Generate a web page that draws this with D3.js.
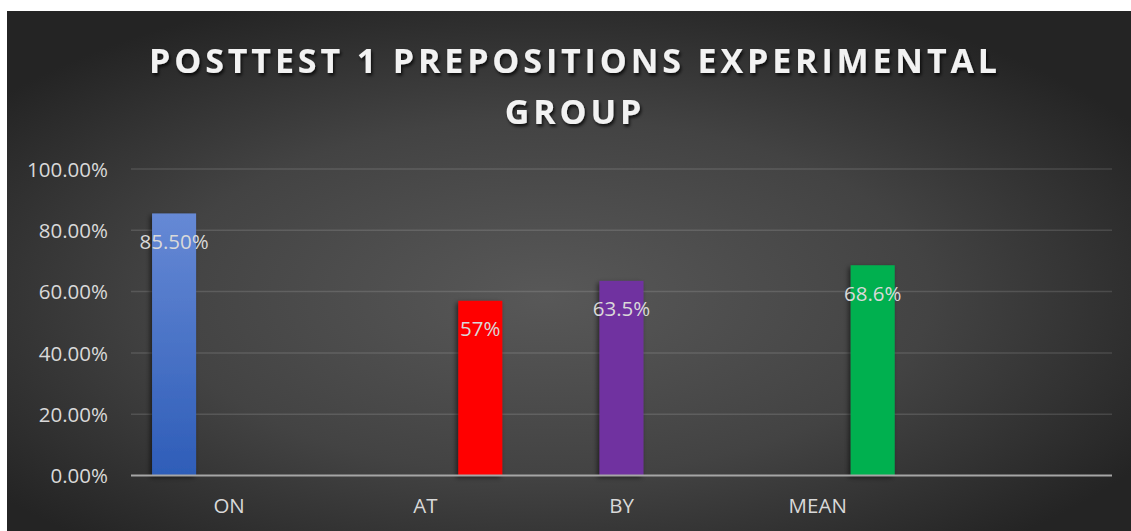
<!DOCTYPE html>
<html>
<head>
<meta charset="utf-8">
<script src="https://cdn.jsdelivr.net/npm/d3@7/dist/d3.min.js"></script>
<style>
  html, body { margin: 0; padding: 0; background: #ffffff; }
  svg { display: block; }
  text { font-family: "Open Sans", "Liberation Sans", sans-serif; }
</style>
</head>
<body>
<svg id="chart" width="1131" height="531"></svg>
<script>
// Categories along the x axis (the last slot is left empty)
const categories = ["ON", "AT", "BY", "MEAN", ""];
// Series slots inside each category group
const seriesNames = ["S1", "S2", "S3"];
// Values per series, one entry per category (null = no bar)
const series1 = [0.855, null, null, null, null];
const series2 = [null, null, 0.635, null, null];
const series3 = [null, 0.57, null, 0.686, null];
// Data labels as printed on the bars
const pointLabels = { ON: "85.50%", AT: "57%", BY: "63.5%", MEAN: "68.6%" };
// Bar fill per category
const pointColors = { ON: "url(#blueFill)", AT: "#ff0000", BY: "#7030a0", MEAN: "#00b050" };
// Y axis ticks
const yTicks = [0, 0.2, 0.4, 0.6, 0.8, 1.0];
const titleLines = ["POSTTEST 1 PREPOSITIONS EXPERIMENTAL", "GROUP"];

const svg = d3.select("#chart");
const W = 1131, H = 531;
const frame = { x: 7, y: 11 };
const plot = { left: 131, right: 1112, top: 169, bottom: 475.5 };

const defs = svg.append("defs");
const bg = defs.append("radialGradient").attr("id", "bgGrad")
  .attr("cx", "48%").attr("cy", "55%").attr("r", "62%")
  .attr("gradientUnits", "objectBoundingBox");
bg.append("stop").attr("offset", "0%").attr("stop-color", "#585858");
bg.append("stop").attr("offset", "55%").attr("stop-color", "#434343");
bg.append("stop").attr("offset", "100%").attr("stop-color", "#242424");

const blue = defs.append("linearGradient").attr("id", "blueFill")
  .attr("x1", 0).attr("y1", 0).attr("x2", 0).attr("y2", 1);
blue.append("stop").attr("offset", "0%").attr("stop-color", "#6689d5");
blue.append("stop").attr("offset", "100%").attr("stop-color", "#2e5db8");

const barShadow = defs.append("filter").attr("id", "barShadow")
  .attr("x", "-30%").attr("y", "-10%").attr("width", "160%").attr("height", "120%");
barShadow.append("feDropShadow").attr("dx", -2).attr("dy", 2)
  .attr("stdDeviation", 2.5).attr("flood-color", "#000").attr("flood-opacity", 0.55);

const titleShadow = defs.append("filter").attr("id", "titleShadow")
  .attr("x", "-5%").attr("y", "-30%").attr("width", "110%").attr("height", "160%");
titleShadow.append("feDropShadow").attr("dx", 1.5).attr("dy", 2.5)
  .attr("stdDeviation", 1.6).attr("flood-color", "#000").attr("flood-opacity", 0.75);

// Background panel
svg.append("rect").attr("x", frame.x).attr("y", frame.y)
  .attr("width", W - frame.x).attr("height", H - frame.y)
  .attr("fill", "url(#bgGrad)");

// Scales
const y = d3.scaleLinear().domain([0, 1]).range([plot.bottom, plot.top]);
const x0 = d3.scaleBand().domain(categories).range([plot.left, plot.right]).padding(0);
const x1 = d3.scaleBand().domain(seriesNames).range([0, x0.bandwidth()])
  .paddingInner(0.2).paddingOuter(0.383);

// Gridlines
svg.append("g").selectAll("line").data(yTicks.filter(d => d > 0)).join("line")
  .attr("x1", plot.left).attr("x2", plot.right)
  .attr("y1", d => y(d)).attr("y2", d => y(d))
  .attr("stroke", "#ffffff").attr("stroke-opacity", 0.13).attr("stroke-width", 1.5);

// Y axis labels
const yAxis = d3.axisLeft(y).tickValues(yTicks).tickFormat(d3.format(".2%")).tickSize(0).tickPadding(0);
const yg = svg.append("g").attr("transform", `translate(${plot.left - 23},0)`).call(yAxis);
yg.select(".domain").remove();
yg.selectAll("text").attr("fill", "#d9d9d9").style("font-size", "20.5px")
  .style("font-family", "'Open Sans', sans-serif").attr("dy", "0.35em");

// Bars
const seriesData = [series1, series2, series3];
const barData = [];
seriesData.forEach((vals, si) => {
  vals.forEach((v, ci) => {
    if (v != null) barData.push({ cat: categories[ci], series: seriesNames[si], value: v });
  });
});

const barG = svg.append("g");
barG.selectAll("rect").data(barData).join("rect")
  .attr("x", d => x0(d.cat) + x1(d.series))
  .attr("width", x1.bandwidth())
  .attr("y", d => y(d.value))
  .attr("height", d => y(0) - y(d.value))
  .attr("fill", d => pointColors[d.cat])
  .attr("filter", "url(#barShadow)");

// Baseline axis
svg.append("line").attr("x1", plot.left).attr("x2", plot.right)
  .attr("y1", y(0)).attr("y2", y(0))
  .attr("stroke", "#a6a6a6").attr("stroke-width", 2.2);

// Data labels
svg.append("g").selectAll("text").data(barData).join("text")
  .attr("x", d => x0(d.cat) + x1(d.series) + x1.bandwidth() / 2)
  .attr("y", d => y(d.value) + 35.5)
  .attr("text-anchor", "middle")
  .attr("fill", "#d9d9d9")
  .style("font-size", "20.5px")
  .text(d => pointLabels[d.cat]);

// Category labels
const xAxis = d3.axisBottom(x0).tickSize(0).tickPadding(0);
const xg = svg.append("g").attr("transform", `translate(0,${y(0)})`).call(xAxis);
xg.select(".domain").remove();
xg.selectAll("text").attr("fill", "#d9d9d9").style("font-size", "20.5px")
  .style("font-family", "'Open Sans', sans-serif").attr("y", 37.5).attr("dy", 0);

// Title
const titleG = svg.append("g").attr("filter", "url(#titleShadow)");
const t1 = titleG.append("text").attr("x", 573).attr("y", 72.5)
  .attr("text-anchor", "middle").attr("fill", "#f2f2f2")
  .style("font-size", "34px").style("font-weight", "700")
  .text(titleLines[0]);
const natural = t1.node().getComputedTextLength();
const spacing = (848 - natural) / (titleLines[0].length - 1);
t1.style("letter-spacing", spacing + "px").attr("x", 573 + spacing / 2);
titleG.append("text").attr("x", 573 + spacing / 2).attr("y", 124)
  .attr("text-anchor", "middle").attr("fill", "#f2f2f2")
  .style("font-size", "34px").style("font-weight", "700")
  .style("letter-spacing", spacing + "px")
  .text(titleLines[1]);
</script>
</body>
</html>
